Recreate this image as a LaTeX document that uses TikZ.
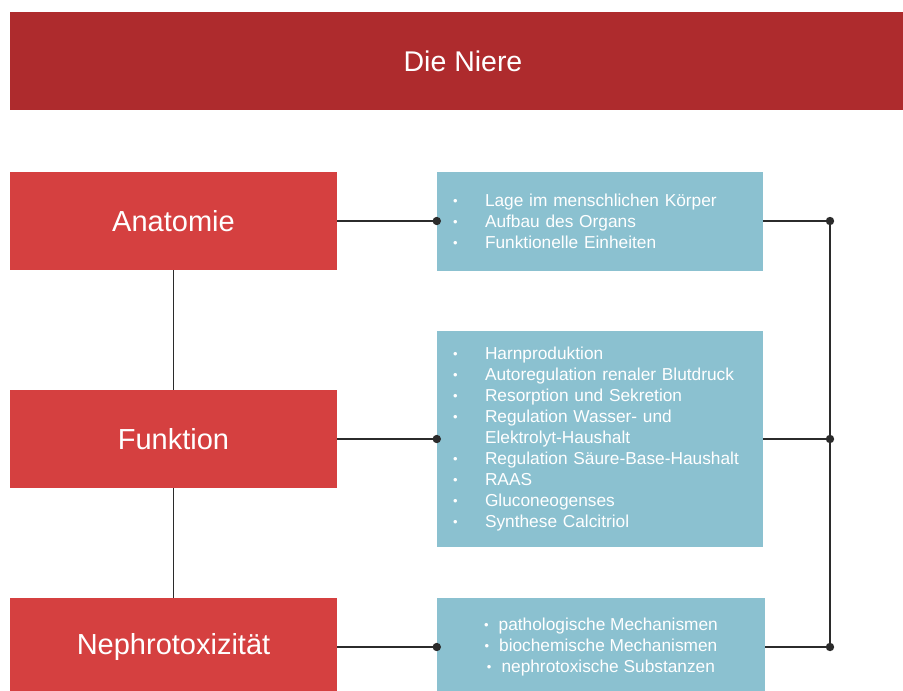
\documentclass[tikz,border=0pt]{standalone}
\usepackage{fontspec}
\setmainfont{Liberation Sans}
\usetikzlibrary{positioning}

\definecolor{titlered}{HTML}{AE2B2D}
\definecolor{boxred}{HTML}{D54040}
\definecolor{boxblue}{HTML}{8BC1D0}
\definecolor{linegray}{HTML}{2B2B2B}

\tikzset{
  topic/.style={fill=boxred, text=white, minimum width=327pt, minimum height=98pt,
    inner sep=0pt, font=\fontsize{29}{34}\selectfont},
  detail/.style={fill=boxblue, text=white, inner xsep=16pt, inner ysep=0pt,
    font=\fontsize{17.3}{21}\selectfont},
  link/.style={draw=linegray, line width=1.8pt},
  knot/.style={fill=linegray}
}

\newcommand{\dotmark}{{\fontsize{13}{13}\selectfont\raisebox{1pt}{•}}}
\newcommand{\bul}{\makebox[32pt][l]{\dotmark}}

\begin{document}
\begin{tikzpicture}[x=1pt, y=-1pt]
% Canvas
\clip (0,0) rectangle (903,691);
\useasboundingbox (0,0) rectangle (903,691);

% Title bar
\node[fill=titlered, text=white, minimum width=906pt, minimum height=98pt,
  font=\fontsize{28.5}{33}\selectfont] (title) at (463,61) {Die Niere};

% Left column
\node[topic] (anat) at (173.5,221) {Anatomie};
\node[topic] (funk) at (173.5,439) {Funktion};
\node[topic] (nephro) at (173.5,647) {Nephrotoxizität};

% Right column
\node[detail, text width=294pt, minimum height=99pt, align=left] (anatl) at (600,221.5)
  {\bul Lage im menschlichen Körper\\
   \bul Aufbau des Organs\\
   \bul Funktionelle Einheiten};
\node[detail, text width=294pt, minimum height=216pt, align=left] (funkl) at (600,439)
  {\bul Harnproduktion\\
   \bul Autoregulation renaler Blutdruck\\
   \bul Resorption und Sekretion\\
   \bul Regulation Wasser- und\\
   \hspace*{32pt}Elektrolyt-Haushalt\\
   \bul Regulation Säure-Base-Haushalt\\
   \bul RAAS\\
   \bul Gluconeogenses\\
   \bul Synthese Calcitriol};
\node[detail, minimum width=328pt, minimum height=98pt, align=center] (nephrol) at (601,647)
  {\dotmark\hspace{10pt}pathologische Mechanismen\\
   \dotmark\hspace{10pt}biochemische Mechanismen\\
   \dotmark\hspace{10pt}nephrotoxische Substanzen};

% Rail on the right
\coordinate (ra) at (830,221);
\coordinate (rf) at (830,439);
\coordinate (rn) at (830,647);

% Connectors
\draw[link] (anat) -- (funk);
\draw[link] (funk) -- (nephro);
\draw[link] (anat.east) -- (anat.east -| anatl.west);
\draw[link] (funk.east) -- (funk.east -| funkl.west);
\draw[link] (nephro.east) -- (nephro.east -| nephrol.west);
\draw[link] (anatl.east |- ra) -- (ra);
\draw[link] (funkl.east |- rf) -- (rf);
\draw[link] (nephrol.east |- rn) -- (rn);
\draw[link] (ra) -- (rn);

% Dots
\fill[knot] (anat.east -| anatl.west) circle (4.2pt);
\fill[knot] (funk.east -| funkl.west) circle (4.2pt);
\fill[knot] (nephro.east -| nephrol.west) circle (4.2pt);
\fill[knot] (ra) circle (4.2pt);
\fill[knot] (rf) circle (4.2pt);
\fill[knot] (rn) circle (4.2pt);
\end{tikzpicture}
\end{document}
